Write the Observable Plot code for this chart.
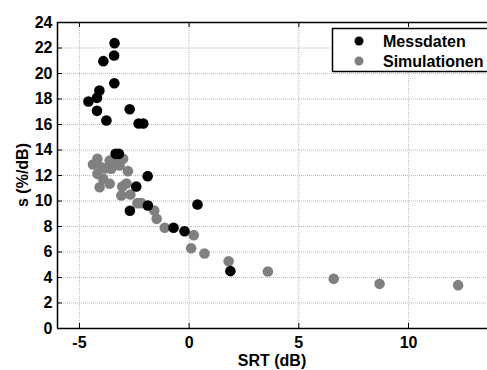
<!DOCTYPE html>
<html><head><meta charset="utf-8">
<script src="https://cdn.jsdelivr.net/npm/d3@7"></script>
<script src="https://cdn.jsdelivr.net/npm/@observablehq/plot@0.6"></script>
<style>body{margin:0;background:#fff} svg{display:block}</style>
</head><body><div id="chart"></div>
<script>
const messSRT = [-3.40,-3.42,-3.91,-3.41,-4.09,-4.20,-4.59,-4.20,-2.71,-3.77,-2.30,-2.09,-3.35,-3.20,-1.89,-2.41,-1.88,-2.70,0.38,-0.71,-0.21,1.88];
const messS   = [22.38,21.41,20.97,19.24,18.67,18.09,17.80,17.07,17.20,16.31,16.08,16.08,13.70,13.70,11.95,11.14,9.65,9.23,9.73,7.90,7.63,4.50];
const simSRT = [-4.38,-4.18,-4.00,-4.18,-3.82,-3.62,-3.40,-3.55,-3.23,-3.01,-3.17,-2.79,-3.92,-4.08,-3.62,-3.05,-2.86,-3.09,-2.68,-2.36,-2.18,-1.59,-1.48,-1.11,0.21,0.09,0.70,1.80,3.59,6.59,8.68,12.26];
const simS   = [12.86,13.31,12.65,12.13,12.55,13.18,13.04,12.53,12.94,13.31,12.78,12.34,11.74,11.08,11.35,11.14,11.37,10.43,10.51,9.83,9.83,9.25,8.60,7.90,7.32,6.30,5.88,5.28,4.47,3.90,3.50,3.40];
const xTicks = [-5, 0, 5, 10];
const yTicks = [0, 2, 4, 6, 8, 10, 12, 14, 16, 18, 20, 22, 24];
const seriesNames = ["Messdaten", "Simulationen"];
const seriesColors = ["#000000", "#808080"];
const xLabel = "SRT (dB)";
const yLabel = "s (%/dB)";

const mess = messSRT.map((x, i) => ({x, y: messS[i]}));
const sim = simSRT.map((x, i) => ({x, y: simS[i]}));

const W = 487, H = 370, mL = 57, mR = 0, mT = 22, mB = 42;
const font = "'Liberation Sans', Arial, Helvetica, sans-serif";

const plot = Plot.plot({
  width: W, height: H, marginLeft: mL, marginRight: mR, marginTop: mT, marginBottom: mB,
  style: {fontFamily: font, fontSize: "16px", fontWeight: "bold", color: "#000", background: "#fff"},
  x: {domain: [-6, 13.6], ticks: xTicks},
  y: {domain: [0, 24], ticks: yTicks},
  marks: [
    Plot.gridX(xTicks, {stroke: "#aaa", strokeOpacity: 1, strokeWidth: 0.8, strokeDasharray: "1,1"}),
    Plot.gridY(yTicks, {stroke: "#aaa", strokeOpacity: 1, strokeWidth: 0.8, strokeDasharray: "1,1"}),
    Plot.axisX(xTicks, {anchor: "bottom", tickSize: 0, tickPadding: 8, label: null, tickFormat: d => d < 0 ? "-" + Math.abs(d) : String(d)}),
    Plot.axisY(yTicks, {anchor: "left", tickSize: 0, tickPadding: 5, label: null}),
    Plot.tickX(xTicks, {x: d => d, insetTop: 301, stroke: "#000", strokeWidth: 1}),
    Plot.tickX(xTicks, {x: d => d, insetBottom: 301, stroke: "#000", strokeWidth: 1}),
    Plot.tickY(yTicks, {y: d => d, insetRight: 425, stroke: "#000", strokeWidth: 1}),
    Plot.ruleX([-6], {stroke: "#000", strokeWidth: 1.5}),
    Plot.ruleY([0, 24], {stroke: "#000", strokeWidth: 1.5}),
    Plot.dot(sim, {x: "x", y: "y", r: 5.3, fill: seriesColors[1], stroke: "none"}),
    Plot.dot(mess, {x: "x", y: "y", r: 5.3, fill: seriesColors[0], stroke: "none"})
  ]
});
document.getElementById("chart").appendChild(plot);

const svg = d3.select(plot);
svg.append("text").attr("x", 272).attr("y", 366)
  .attr("text-anchor", "middle").attr("font-family", font).attr("font-size", 16).attr("font-weight", "bold")
  .text(xLabel);
svg.append("text").attr("transform", `translate(28,${(mT + H - mB) / 2}) rotate(-90)`)
  .attr("text-anchor", "middle").attr("font-family", font).attr("font-size", 16).attr("font-weight", "bold")
  .text(yLabel);

const lg = svg.append("g");
lg.append("rect").attr("x", 332.5).attr("y", 28.5).attr("width", 170).attr("height", 43)
  .attr("fill", "#fff").attr("stroke", "#000").attr("stroke-width", 1.5);
seriesNames.forEach((name, i) => {
  const cy = 41 + i * 20;
  lg.append("circle").attr("cx", 359).attr("cy", cy).attr("r", 4.5).attr("fill", seriesColors[i]);
  lg.append("text").attr("x", 383).attr("y", cy + 6).attr("text-anchor", "start").attr("font-family", font)
    .attr("font-size", 16).attr("font-weight", "bold").text(name);
});
</script>
</body></html>
